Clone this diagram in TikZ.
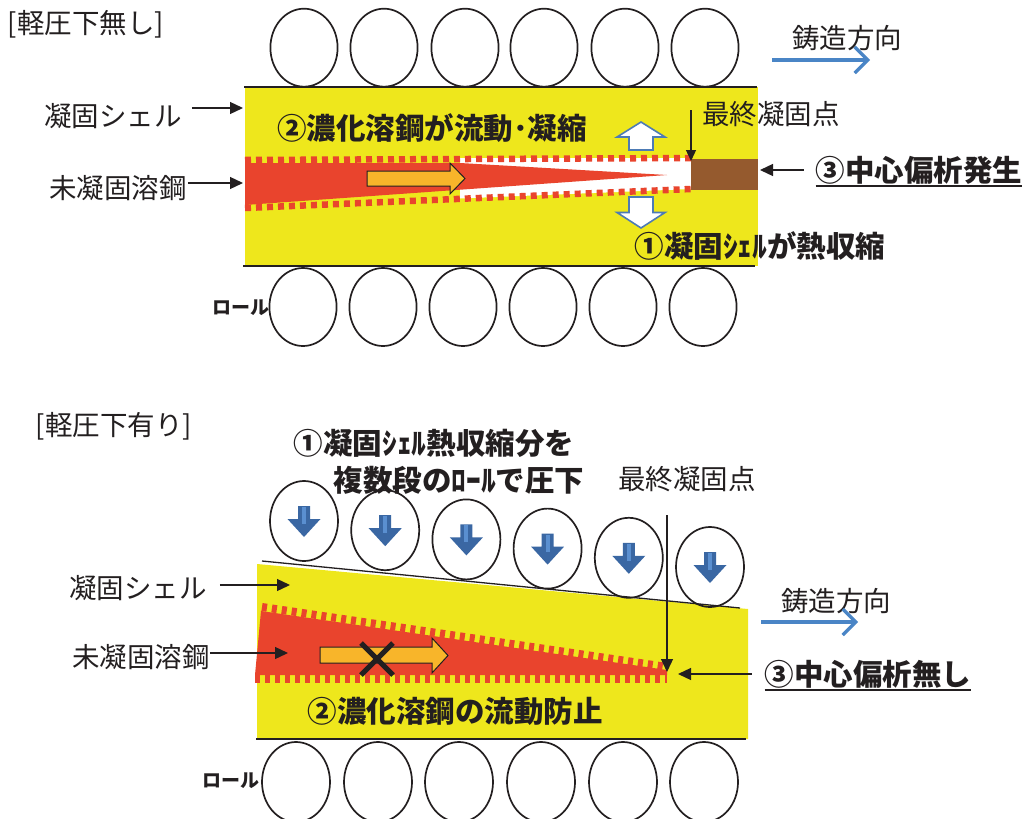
\documentclass[tikz,border=0pt]{standalone}
\usepackage{fontspec}
\setmainfont{Noto Sans CJK JP}
\usetikzlibrary{arrows.meta,calc}
\definecolor{shell}{HTML}{EEE71C}
\definecolor{melt}{HTML}{E9442D}
\definecolor{flowor}{HTML}{F8B52A}
\definecolor{segr}{HTML}{955A2E}
\definecolor{castblue}{HTML}{4A85C6}
\definecolor{hollowblue}{HTML}{4D7BB5}
\definecolor{pressblue}{HTML}{3A67A3}
\definecolor{pressblueL}{HTML}{5A8FD0}
\definecolor{ink}{HTML}{231F20}
\begin{document}
\begin{tikzpicture}[x=1pt,y=-1pt,
  lbl/.style={inner sep=0pt, text=ink, font=\fontsize{27.5}{30}\selectfont},
  key/.style={inner sep=0pt, text=ink, font=\fontsize{29.5}{32}\selectfont\bfseries},
  rolllbl/.style={inner sep=0pt, text=ink, font=\fontsize{19}{22}\selectfont\bfseries},
  ptr/.style={draw=ink, line width=1.3pt, -{Triangle[length=13pt,width=12pt]}},
  castdir/.style={draw=castblue, line width=3.2pt, -{Straight Barb[length=13pt,width=26pt]}},
  roll/.style={draw=ink, line width=1.7pt},
  face/.style={draw=ink, line width=2.8pt},
  crustA/.style={draw=melt, line width=6.5pt, dash pattern=on 6pt off 5pt},
  crustB/.style={draw=melt, line width=8pt, dash pattern=on 5pt off 5pt},
  hollow/.style={draw=hollowblue, line width=1.6pt, fill=white, line join=miter},
  flowarrow/.style={draw=ink, line width=1pt, fill=flowor}
]
\useasboundingbox (0,0) rectangle (1028,819);

% ================= upper panel: without soft reduction =================
\node[lbl] (titleA) at (86,24) {[軽圧下無し]};

% strand body (solidified shell)
\fill[shell] (245,87) rectangle (758,266);

% gap opened by shell shrinkage, liquid core, centre segregation
\fill[white] (460,158) -- (691,158) -- (691,189) -- (460,198.5) -- cycle;
\fill[melt] (245,163) -- (460,163) -- (667,175) -- (245,205) -- cycle;
\fill[segr] (691,159) rectangle (758,190);
\draw[crustA] (245,160) -- (691,158);
\draw[crustA] (245,208) -- (691,189);

% flow of enriched melt
\draw[flowarrow] (367,171) -- (450,171) -- (450,163) -- (465,178.5) -- (450,194)
  -- (450,186) -- (367,186) -- cycle;

% shrinkage of the shell (hollow arrows)
\draw[hollow] (629,150) -- (629,137) -- (617,137) -- (641,122) -- (665,137)
  -- (653,137) -- (653,150) -- cycle;
\draw[hollow] (629,197) -- (653,197) -- (653,212.5) -- (665,212.5) -- (641,228)
  -- (617,212.5) -- (629,212.5) -- cycle;

% strand faces and rolls
\draw[face] (244,87) -- (757,87);
\draw[face] (243,266) -- (755,266);
\foreach \cx in {304,384,465,544,625,705}
  \draw[roll] (\cx,47.7) ellipse [x radius=33.6, y radius=39];
\foreach \cx in {303,383,463,543,623,703}
  \draw[roll] (\cx,307) ellipse [x radius=33.6, y radius=39];

% labels
\node[lbl] (shellA) at (113,116) {凝固シェル};
\coordinate (shellAtip) at (243,108);
\draw[ptr] ($(shellA.east |- shellAtip)+(10,0)$) -- (shellAtip);

\node[lbl] (meltA) at (118,188) {未凝固溶鋼};
\coordinate (meltAtip) at (243,183);
\draw[ptr] ($(meltA.east |- meltAtip)+(1,0)$) -- (meltAtip);

\node[rolllbl] (rollA) at (241,308) {ロール};

\node[lbl] (castA) at (847,38) {鋳造方向};
\coordinate (castAfrom) at (772,60);
\coordinate (castAto) at (870,60);
\draw[castdir] (castAfrom) -- (castAto);

\node[key] (flowA) at (432,128) {②濃化溶鋼が流動･凝縮};

\node[lbl] (endA) at (771,114) {最終凝固点};
\coordinate (endAtop) at (691,110);
\coordinate (endAtip) at (691,161);
\draw[ptr, -{Triangle[length=11pt,width=10pt]}] (endAtop) -- (endAtip);

\node[key] (segA) at (919,170) {③中心偏析発生};
\draw[line width=2.2pt, ink] ([yshift=-2pt]segA.south west) -- ([yshift=-2pt]segA.south east);
\coordinate (segAtip) at (760,170);
\draw[ptr] ($(segA.west |- segAtip)+(-12,0)$) -- (segAtip);

\node[key] (shrinkA) at (760,246) {①凝固ｼｪﾙが熱収縮};

% ================= lower panel: with soft reduction =================
\node[lbl] (titleB) at (114,426) {[軽圧下有り]};

% tapered strand
\fill[shell] (257,564) -- (748,609) -- (748,739) -- (257,739) -- cycle;
\draw[ink, line width=1.3pt] (262,561) -- (740,608);
\draw[face] (256,739) -- (746,739);

% liquid core closing to the final solidification point
\fill[melt] (261,611) -- (667,670) -- (667,675) -- (255,675) -- cycle;
\draw[crustB] (262,607) -- (667,667);
\draw[crustB] (255,679) -- (667,679);

% blocked flow
\draw[flowarrow] (320,647) -- (432,647) -- (432,638) -- (448,655.5) -- (432,673)
  -- (432,663) -- (320,663) -- cycle;
\draw[ink, line width=5pt] (361,643) -- (393,675);
\draw[ink, line width=5pt] (361,675) -- (393,643);

% reducing rolls with pressing arrows
\foreach \i in {0,...,5} {
  \pgfmathsetmacro{\cx}{304+81.2*\i}
  \pgfmathsetmacro{\cy}{521+9.2*\i}
  \draw[roll] (\cx,\cy) ellipse [x radius=34, y radius=40];
  \fill[pressblue] (\cx-6,\cy-15) -- (\cx+6,\cy-15) -- (\cx+6,\cy-2) -- (\cx+16.5,\cy-2)
    -- (\cx,\cy+16) -- (\cx-16.5,\cy-2) -- (\cx-6,\cy-2) -- cycle;
  \fill[pressblueL] (\cx-2,\cy-14) rectangle (\cx+2,\cy+3);
}
\foreach \cx in {296,378,459,541,623,704}
  \draw[roll] (\cx,782) ellipse [x radius=34, y radius=40];

% labels
\node[key] (reduceB1) at (434,443) {①凝固ｼｪﾙ熱収縮分を};
\node[key] (reduceB2) at (459,480) {複数段のﾛｰﾙで圧下};

\node[lbl] (endB) at (687,479) {最終凝固点};
\coordinate (endBtop) at (667,515);
\coordinate (endBtip) at (667,672);
\draw[ptr] (endBtop) -- (endBtip);

\node[lbl] (shellB) at (138,588) {凝固シェル};
\coordinate (shellBtip) at (290,585);
\draw[ptr] ($(shellB.east |- shellBtip)+(13,0)$) -- (shellBtip);

\node[lbl] (meltB) at (141,657) {未凝固溶鋼};
\coordinate (meltBtip) at (288,653);
\draw[ptr] ($(meltB.east |- meltBtip)+(0,0)$) -- (meltBtip);

\node[lbl] (castB) at (836,601) {鋳造方向};
\coordinate (castBfrom) at (761,622);
\coordinate (castBto) at (858,622);
\draw[castdir] (castBfrom) -- (castBto);

\node[key] (segB) at (868,674) {③中心偏析無し};
\draw[line width=2.2pt, ink] ([yshift=-2pt]segB.south west) -- ([yshift=-2pt]segB.south east);
\coordinate (segBtip) at (678,674);
\draw[ptr] ($(segB.west |- segBtip)+(-13,0)$) -- (segBtip);

\node[key] (stopB) at (455,711) {②濃化溶鋼の流動防止};

\node[rolllbl] (rollB) at (231,781) {ロール};
\end{tikzpicture}
\end{document}
